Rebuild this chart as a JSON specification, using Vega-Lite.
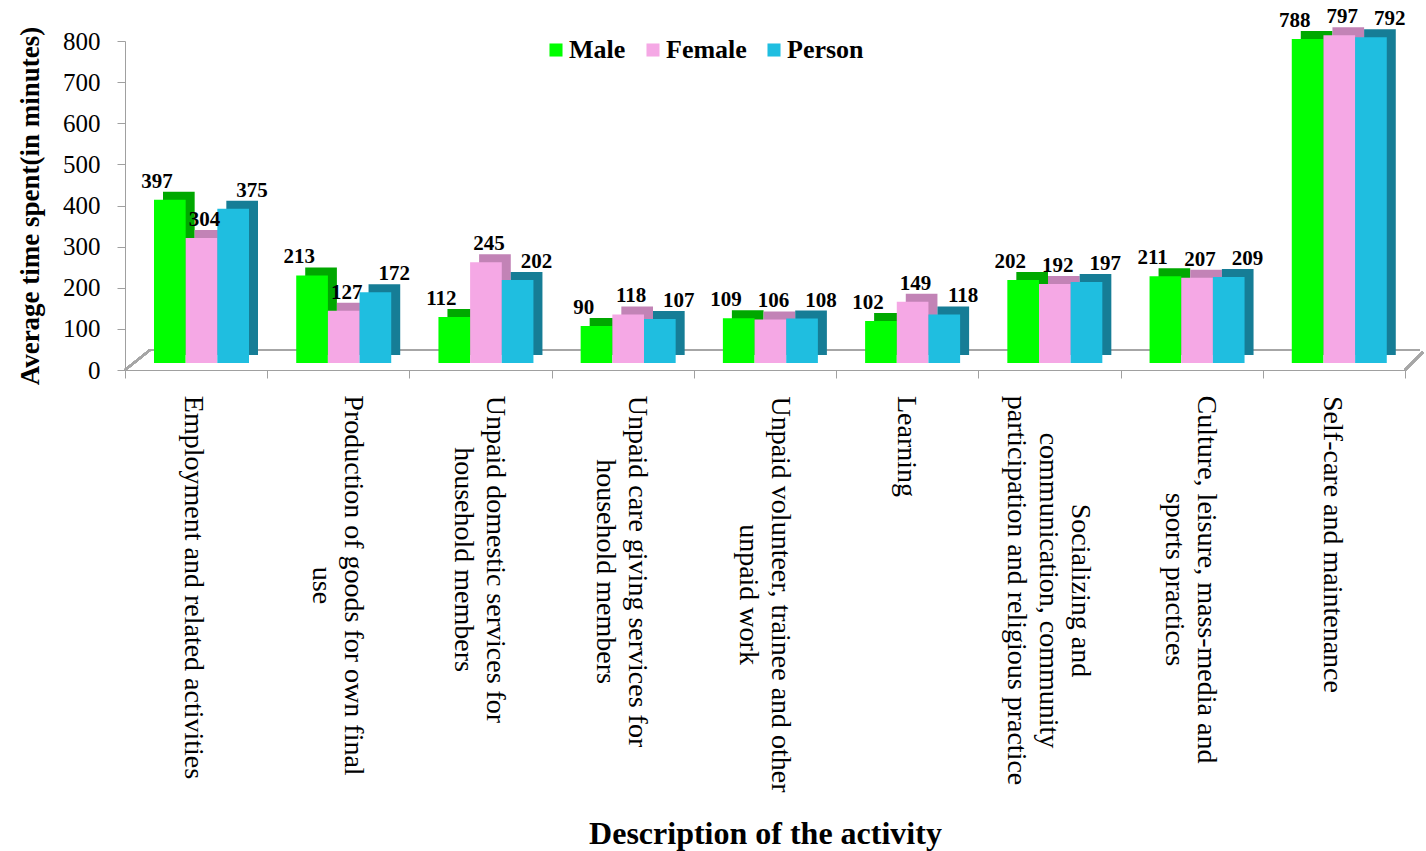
{
  "$schema": "https://vega.github.io/schema/vega-lite/v6.json",
  "width": 1280,
  "height": 329,
  "autosize": {"type": "none"},
  "padding": {"left": 125, "top": 41, "right": 21, "bottom": 481},
  "background": "white",
  "config": {"view": {"stroke": null}, "font": "Liberation Serif"},
  "data": {
    "values": [
      {"activity": "Employment and related activities", "sex": "Male", "minutes": 397},
      {"activity": "Employment and related activities", "sex": "Female", "minutes": 304},
      {"activity": "Employment and related activities", "sex": "Person", "minutes": 375},
      {"activity": "Production of goods for own final use", "sex": "Male", "minutes": 213},
      {"activity": "Production of goods for own final use", "sex": "Female", "minutes": 127},
      {"activity": "Production of goods for own final use", "sex": "Person", "minutes": 172},
      {"activity": "Unpaid domestic services for household members", "sex": "Male", "minutes": 112},
      {"activity": "Unpaid domestic services for household members", "sex": "Female", "minutes": 245},
      {"activity": "Unpaid domestic services for household members", "sex": "Person", "minutes": 202},
      {"activity": "Unpaid care giving services for household members", "sex": "Male", "minutes": 90},
      {"activity": "Unpaid care giving services for household members", "sex": "Female", "minutes": 118},
      {"activity": "Unpaid care giving services for household members", "sex": "Person", "minutes": 107},
      {"activity": "Unpaid volunteer, trainee and other unpaid work", "sex": "Male", "minutes": 109},
      {"activity": "Unpaid volunteer, trainee and other unpaid work", "sex": "Female", "minutes": 106},
      {"activity": "Unpaid volunteer, trainee and other unpaid work", "sex": "Person", "minutes": 108},
      {"activity": "Learning", "sex": "Male", "minutes": 102},
      {"activity": "Learning", "sex": "Female", "minutes": 149},
      {"activity": "Learning", "sex": "Person", "minutes": 118},
      {"activity": "Socializing and communication, community participation and religious practice", "sex": "Male", "minutes": 202},
      {"activity": "Socializing and communication, community participation and religious practice", "sex": "Female", "minutes": 192},
      {"activity": "Socializing and communication, community participation and religious practice", "sex": "Person", "minutes": 197},
      {"activity": "Culture, leisure, mass-media and sports practices", "sex": "Male", "minutes": 211},
      {"activity": "Culture, leisure, mass-media and sports practices", "sex": "Female", "minutes": 207},
      {"activity": "Culture, leisure, mass-media and sports practices", "sex": "Person", "minutes": 209},
      {"activity": "Self-care and maintenance", "sex": "Male", "minutes": 788},
      {"activity": "Self-care and maintenance", "sex": "Female", "minutes": 797},
      {"activity": "Self-care and maintenance", "sex": "Person", "minutes": 792}
    ]
  },
  "encoding": {
    "x": {
      "field": "activity",
      "type": "nominal",
      "sort": null,
      "scale": {
        "domain": [
          "Employment and related activities",
          "Production of goods for own final use",
          "Unpaid domestic services for household members",
          "Unpaid care giving services for household members",
          "Unpaid volunteer, trainee and other unpaid work",
          "Learning",
          "Socializing and communication, community participation and religious practice",
          "Culture, leisure, mass-media and sports practices",
          "Self-care and maintenance"
        ],
        "paddingInner": 0,
        "paddingOuter": 0
      },
      "title": "Description of the activity",
      "axis": {
        "labelAngle": 90,
        "labelAlign": "center",
        "labelBaseline": "middle",
        "labelFont": "Liberation Serif",
        "labelFontSize": 28,
        "labelLineHeight": 32,
        "labelColor": "black",
        "labelLimit": 0,
        "labelOverlap": false,
        "labelBound": false,
        "labelExpr": "datum.value === 'Production of goods for own final use' ? ['Production of goods for own final', 'use'] : datum.value === 'Unpaid domestic services for household members' ? ['Unpaid domestic services for', 'household members'] : datum.value === 'Unpaid care giving services for household members' ? ['Unpaid care giving services for', 'household members'] : datum.value === 'Unpaid volunteer, trainee and other unpaid work' ? ['Unpaid volunteer, trainee and other', 'unpaid work'] : datum.value === 'Socializing and communication, community participation and religious practice' ? ['Socializing and', 'communication, community', 'participation and religious practice'] : datum.value === 'Culture, leisure, mass-media and sports practices' ? ['Culture, leisure, mass-media and', 'sports practices'] : datum.value",
        "labelPadding": {
          "condition": [
            {"test": "datum.value === 'Employment and related activities'", "value": 209},
            {"test": "datum.value === 'Production of goods for own final use'", "value": 207},
            {"test": "datum.value === 'Unpaid domestic services for household members'", "value": 181},
            {"test": "datum.value === 'Unpaid care giving services for household members'", "value": 193},
            {"test": "datum.value === 'Unpaid volunteer, trainee and other unpaid work'", "value": 216},
            {"test": "datum.value === 'Learning'", "value": 68},
            {"test": "datum.value === 'Socializing and communication, community participation and religious practice'", "value": 212},
            {"test": "datum.value === 'Culture, leisure, mass-media and sports practices'", "value": 201}
          ],
          "value": 166
        },
        "labelOffset": {
          "condition": [
            {"test": "datum.value === 'Employment and related activities'", "value": -4},
            {"test": "datum.value === 'Socializing and communication, community participation and religious practice'", "value": 30},
            {"test": "datum.value === 'Learning' || datum.value === 'Self-care and maintenance'", "value": -2}
          ],
          "value": 14
        },
        "tickSize": 8,
        "tickBand": "extent",
        "tickColor": "#A0A0A0",
        "domainColor": "#A0A0A0",
        "titleFont": "Liberation Serif",
        "titleFontSize": 32,
        "titleFontWeight": "bold",
        "titleColor": "black",
        "titleY": 463,
        "titleBaseline": "middle"
      }
    },
    "y": {
      "field": "minutes",
      "type": "quantitative",
      "scale": {"domain": [0, 800], "nice": false},
      "title": "Average time spent(in minutes)",
      "axis": {
        "values": [0, 100, 200, 300, 400, 500, 600, 700, 800],
        "grid": false,
        "tickSize": 8,
        "tickColor": "#A0A0A0",
        "domainColor": "#A0A0A0",
        "labelFont": "Liberation Serif",
        "labelFontSize": 25,
        "labelColor": "black",
        "labelPadding": 17,
        "titleFont": "Liberation Serif",
        "titleFontSize": 27,
        "titleFontWeight": "bold",
        "titleColor": "black",
        "titlePadding": 18
      }
    }
  },
  "layer": [
    {
      "mark": {"type": "rule", "color": "#A6A6A6", "strokeWidth": 2, "xOffset": 25, "x2Offset": 15, "yOffset": -20, "y2Offset": -20},
      "encoding": {
        "x": {"datum": "Employment and related activities", "bandPosition": 0},
        "x2": {"datum": "Self-care and maintenance", "bandPosition": 1},
        "y": {"datum": 0, "type": "quantitative"},
        "y2": {"datum": 0}
      }
    },
    {
      "mark": {"type": "rule", "color": "#A6A6A6", "strokeWidth": 2, "x2Offset": 25, "y2Offset": -20},
      "encoding": {
        "x": {"datum": "Employment and related activities", "bandPosition": 0},
        "x2": {"datum": "Employment and related activities", "bandPosition": 0},
        "y": {"datum": 0, "type": "quantitative"},
        "y2": {"datum": 0}
      }
    },
    {
      "mark": {"type": "rule", "color": "#A6A6A6", "strokeWidth": 2, "x2Offset": 18, "y2Offset": -18},
      "encoding": {
        "x": {"datum": "Self-care and maintenance", "bandPosition": 1},
        "x2": {"datum": "Self-care and maintenance", "bandPosition": 1},
        "y": {"datum": 0, "type": "quantitative"},
        "y2": {"datum": 0}
      }
    },
    {
      "mark": {"type": "bar", "yOffset": -15, "y2Offset": -15},
      "encoding": {
        "xOffset": {"field": "sex", "type": "nominal", "sort": ["Male", "Female", "Person"], "scale": {"range": [38, 133], "paddingInner": 0, "paddingOuter": 0}},
        "color": {
          "field": "sex",
          "type": "nominal",
          "scale": {"domain": ["Male", "Female", "Person"], "range": ["#00A800", "#C283B6", "#167D96"]},
          "legend": null
        }
      }
    },
    {
      "mark": {"type": "bar", "yOffset": -7, "y2Offset": -7},
      "encoding": {
        "xOffset": {"field": "sex", "type": "nominal", "sort": ["Male", "Female", "Person"], "scale": {"range": [29, 124], "paddingInner": 0, "paddingOuter": 0}},
        "color": {
          "field": "sex",
          "type": "nominal",
          "scale": {"domain": ["Male", "Female", "Person"], "range": ["#00FF00", "#F5A8E5", "#1FBEE0"]},
          "legend": {
            "orient": "none",
            "legendX": 418,
            "legendY": -4,
            "direction": "horizontal",
            "title": null,
            "symbolType": "square",
            "symbolSize": 170,
            "symbolStrokeWidth": 0,
            "symbolOpacity": 1,
            "labelFont": "Liberation Serif",
            "labelFontSize": 26,
            "labelFontWeight": "bold",
            "labelColor": "black",
            "labelOffset": 0,
            "columnPadding": 14
          }
        }
      }
    },
    {
      "mark": {"type": "text", "fontWeight": "bold", "fontSize": 21, "font": "Liberation Serif", "baseline": "bottom", "dy": -15, "dx": 3, "color": "black"},
      "encoding": {
        "xOffset": {"field": "sex", "type": "nominal", "sort": ["Male", "Female", "Person"], "scale": {"range": [29, 124], "paddingInner": 0, "paddingOuter": 0}},
        "text": {"field": "minutes", "type": "quantitative"}
      }
    }
  ],
  "resolve": {"scale": {"color": "independent", "xOffset": "independent"}}
}
